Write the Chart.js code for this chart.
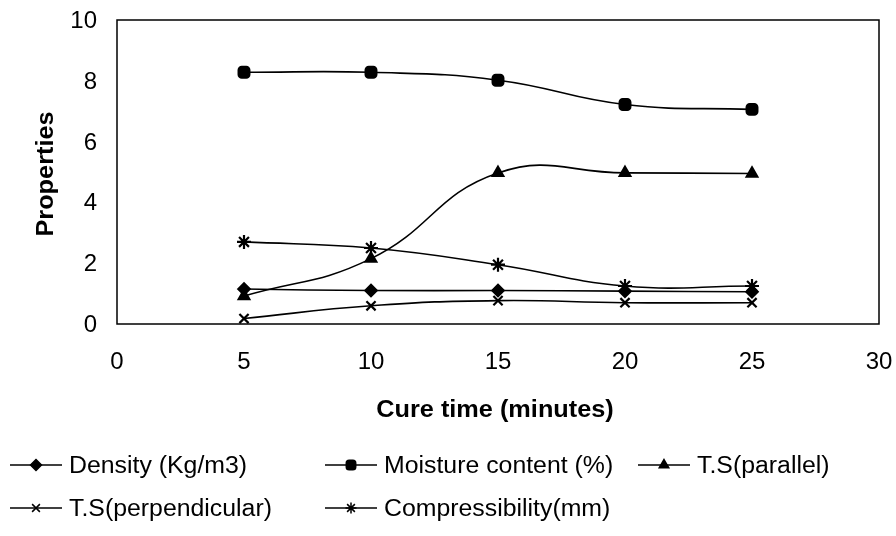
<!DOCTYPE html>
<html>
<head>
<meta charset="utf-8">
<script src="https://cdn.jsdelivr.net/npm/chart.js@4.4.0/dist/chart.umd.min.js"></script>
<style>
  html, body { margin: 0; padding: 0; background: #fff; }
  #wrap { width: 896px; height: 536px; }
</style>
</head>
<body>
<div id="wrap"><canvas id="grafico" width="896" height="536"></canvas></div>
<script>
// Dados
const cureTimes = [5, 10, 15, 20, 25];
const density = [1.15, 1.1, 1.1, 1.08, 1.06];
const moisture = [8.28, 8.28, 8.02, 7.22, 7.06];
const tsParallel = [0.92, 2.15, 4.97, 4.97, 4.95];
const tsPerpendicular = [0.18, 0.6, 0.77, 0.7, 0.7];
const compressibility = [2.7, 2.5, 1.95, 1.25, 1.25];
const xTicks = [0, 5, 10, 15, 20, 25, 30];
const yTicks = [0, 2, 4, 6, 8, 10];
const xTitle = 'Cure time (minutes)';
const yTitle = 'Properties';

const FONT = "'Liberation Sans', Arial, sans-serif";

function pontos(valores) {
    return cureTimes.map((t, i) => ({ x: t, y: valores[i] }));
}

function serie(label, valores, estilo, raio, traco) {
    return {
        label: label,
        data: pontos(valores),
        borderColor: '#000',
        backgroundColor: '#000',
        borderWidth: 1.6,
        tension: 0.45,
        pointStyle: estilo,
        pointRadius: raio,
        pointBorderWidth: traco,
        pointBorderColor: '#000',
        pointBackgroundColor: '#000'
    };
}

const datasets = [
    serie('Density (Kg/m3)', density, 'rectRot', 6, 1.8),
    serie('Moisture content (%)', moisture, 'rectRounded', 6.5, 1.8),
    serie('T.S(parallel)', tsParallel, 'triangle', 6.5, 1.8),
    serie('T.S(perpendicular)', tsPerpendicular, 'crossRot', 6.5, 2.2),
    serie('Compressibility(mm)', compressibility, 'star', 7, 2.2)
];

// posições da legenda
const legendaPos = [
    { x: 10, y: 465 },
    { x: 325, y: 465 },
    { x: 638, y: 465 },
    { x: 10, y: 508 },
    { x: 325, y: 508 }
];

// texto levemente esticado na horizontal
function textoLargo(ctx, texto, x, y, align, esticar, rot) {
    ctx.save();
    ctx.translate(x, y);
    if (rot) ctx.rotate(rot);
    ctx.scale(esticar, 1);
    ctx.textAlign = align;
    ctx.fillText(texto, 0, 0);
    ctx.restore();
}

const moldura = {
    id: 'moldura',
    afterDatasetsDraw(chart) {
        const { ctx, chartArea } = chart;
        ctx.save();
        ctx.strokeStyle = '#000';
        ctx.lineWidth = 1.5;
        ctx.strokeRect(chartArea.left, chartArea.top, chartArea.right - chartArea.left, chartArea.bottom - chartArea.top);
        ctx.restore();
    }
};

const eixos = {
    id: 'eixosTexto',
    afterDraw(chart) {
        const { ctx, chartArea } = chart;
        const sx = chart.scales.x, sy = chart.scales.y;
        ctx.save();
        ctx.fillStyle = '#000';
        ctx.textBaseline = 'alphabetic';
        ctx.font = '24px ' + FONT;
        xTicks.forEach(v => textoLargo(ctx, String(v), sx.getPixelForValue(v), chartArea.bottom + 45, 'center', 1));
        yTicks.forEach(v => textoLargo(ctx, String(v), chartArea.left - 20, sy.getPixelForValue(v) + 8, 'right', 1));
        ctx.font = 'bold 23px ' + FONT;
        textoLargo(ctx, xTitle, 495, chartArea.bottom + 93, 'center', 1.1);
        textoLargo(ctx, yTitle, 53, 174, 'center', 1.1, -Math.PI / 2);
        ctx.restore();
    }
};

const legenda = {
    id: 'legendaCustom',
    afterDraw(chart) {
        const ctx = chart.ctx;
        ctx.save();
        ctx.font = '23px ' + FONT;
        ctx.textBaseline = 'alphabetic';
        chart.data.datasets.forEach((ds, i) => {
            const p = legendaPos[i];
            ctx.strokeStyle = '#000';
            ctx.fillStyle = '#000';
            ctx.lineWidth = 1.5;
            ctx.beginPath();
            ctx.moveTo(p.x, p.y);
            ctx.lineTo(p.x + 52, p.y);
            ctx.stroke();
            Chart.helpers.drawPoint(ctx, {
                pointStyle: ds.pointStyle,
                radius: 5.5,
                rotation: 0,
                borderWidth: 1.5
            }, p.x + 26, p.y);
            ctx.fillStyle = '#000';
            textoLargo(ctx, ds.label, p.x + 59, p.y + 8, 'left', 1.08);
        });
        ctx.restore();
    }
};

new Chart(document.getElementById('grafico'), {
    type: 'line',
    data: { datasets: datasets },
    options: {
        responsive: false,
        animation: false,
        layout: { padding: { left: 117, right: 17, top: 20, bottom: 212 } },
        plugins: {
            legend: { display: false },
            tooltip: { enabled: false }
        },
        scales: {
            x: {
                type: 'linear',
                display: false,
                min: 0,
                max: 30,
                afterBuildTicks: (axis) => { axis.ticks = xTicks.map(v => ({ value: v })); }
            },
            y: {
                display: false,
                min: 0,
                max: 10,
                afterBuildTicks: (axis) => { axis.ticks = yTicks.map(v => ({ value: v })); }
            }
        }
    },
    plugins: [moldura, eixos, legenda]
});
</script>
</body>
</html>
